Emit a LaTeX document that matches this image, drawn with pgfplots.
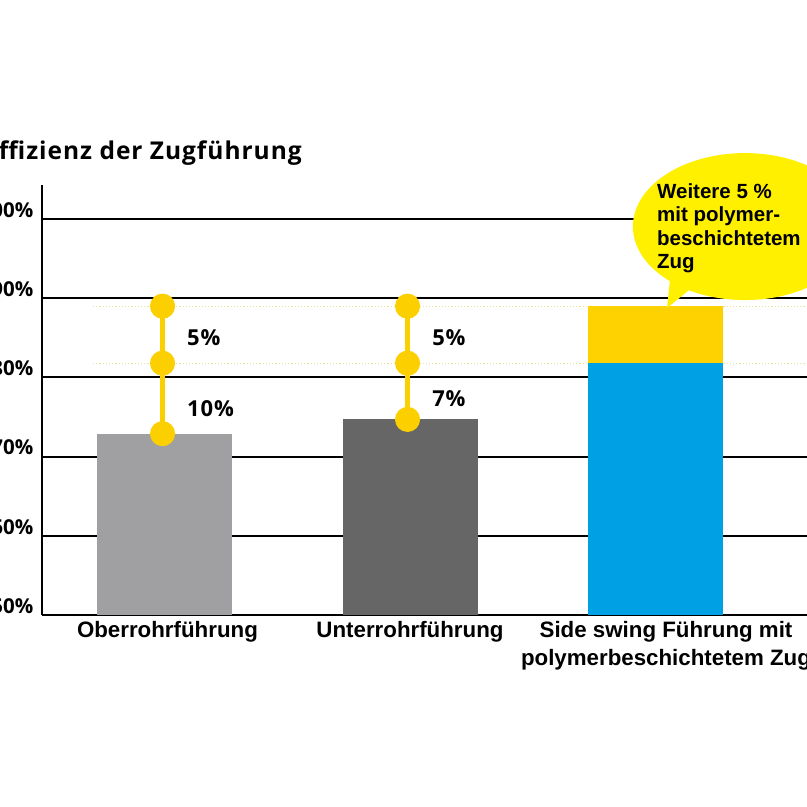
\documentclass[border=0pt]{standalone}
\usepackage{pgfplots}
\pgfplotsset{compat=1.18}
\usepackage{fontspec}
\setmainfont{Liberation Sans}
\newfontfamily\osans{Open Sans}[LetterSpace=4]
\newfontfamily\osanst{Open Sans}
\definecolor{grayA}{HTML}{A0A0A2}
\definecolor{grayB}{HTML}{666666}
\definecolor{blueC}{HTML}{00A0E4}
\definecolor{goldC}{HTML}{FDD200}
\definecolor{dotY}{HTML}{FCD000}
\definecolor{bubY}{HTML}{FFF000}
\definecolor{faintY}{HTML}{EAE4A0}
\begin{document}
\begin{tikzpicture}
\begin{axis}[
  at={(0,0)}, anchor=south west,
  scale only axis, width=833pt, height=430pt,
  xmin=-0.5, xmax=2.9, ymin=50, ymax=104.3,
  axis lines=left,
  axis line style={-, line width=2pt, black},
  clip mode=individual,
  ytick={50,60,70,80,90,100},
  yticklabel={\pgfmathprintnumber{\tick}\%},
  /pgf/number format/assume math mode=true,
  yticklabel style={font=\osanst\bfseries\fontsize{20.5}{24}\selectfont, anchor=east, inner sep=0pt, xshift=-9pt, yshift=9pt},
  ymajorgrids,
  grid style={line width=2pt, black},
  major tick length=0pt,
  xtick={0.01,1,2.045},
  xticklabels={Oberrohrführung, Unterrohrführung, {Side swing Führung mit\\polymerbeschichtetem Zug}},
  xticklabel style={font=\bfseries\fontsize{22.3}{28}\selectfont, align=center, anchor=north, inner sep=0pt, yshift=-6pt},
]
% faint dotted guide lines
\addplot[faintY, dotted, line width=1.2pt] coordinates {(-0.294,89.0) (2.9,89.0)};
\addplot[faintY, dotted, line width=1.2pt] coordinates {(-0.294,81.8) (2.9,81.8)};
% bars
\addplot[ybar, bar width=135pt, bar shift=0pt, fill=grayA, draw=none] coordinates {(0,72.9)};
\addplot[ybar, bar width=135pt, bar shift=0pt, fill=grayB, draw=none] coordinates {(1,74.7)};
\addplot[ybar, bar width=135pt, bar shift=0pt, fill=goldC, draw=none] coordinates {(2,89.0)};
\addplot[ybar, bar width=135pt, bar shift=0pt, fill=blueC, draw=none] coordinates {(2,81.8)};
% connectors with dots
\addplot[dotY, line width=5pt, mark=*, mark size=10pt, mark options={fill=dotY, draw=none}] coordinates {(-0.01,72.9) (-0.01,81.8) (-0.01,89.0)};
\addplot[dotY, line width=5pt, mark=*, mark size=10pt, mark options={fill=dotY, draw=none}] coordinates {(0.99,74.7) (0.99,81.8) (0.99,89.0)};
% value labels
\node[anchor=west, inner sep=0pt, font=\osans\bfseries\fontsize{22}{24}\selectfont] at (axis cs:0.09,84.97) {5\%};
\node[anchor=west, inner sep=0pt, font=\osans\bfseries\fontsize{22}{24}\selectfont] at (axis cs:0.09,76.1) {10\%};
\node[anchor=west, inner sep=0pt, font=\osans\bfseries\fontsize{22}{24}\selectfont] at (axis cs:1.09,84.97) {5\%};
\node[anchor=west, inner sep=0pt, font=\osans\bfseries\fontsize{22}{24}\selectfont] at (axis cs:1.09,77.3) {7\%};
% speech bubble
\fill[bubY] (axis cs:2.367,99.05) ellipse [x radius=112pt, y radius=73.5pt];
\fill[bubY] (axis cs:2.063,92.8) -- (axis cs:2.138,91.0) -- (axis cs:2.049,88.76) -- cycle;
\node[anchor=north west, inner sep=0pt, align=left, font=\bfseries\fontsize{20.5}{23.5}\selectfont] at (axis cs:2.008,104.55) {Weitere 5 \%\\mit polymer-\\beschichtetem\\Zug};
% title
\node[anchor=base east, inner sep=0pt, font=\osans\bfseries\fontsize{24.5}{28}\selectfont] at (axis cs:0.559,107.58) {Effizienz der Zugführung};
\end{axis}
\pgfresetboundingbox
\path[use as bounding box] (-42.5pt,-192pt) rectangle (764.5pt,615pt);
\end{tikzpicture}
\end{document}
